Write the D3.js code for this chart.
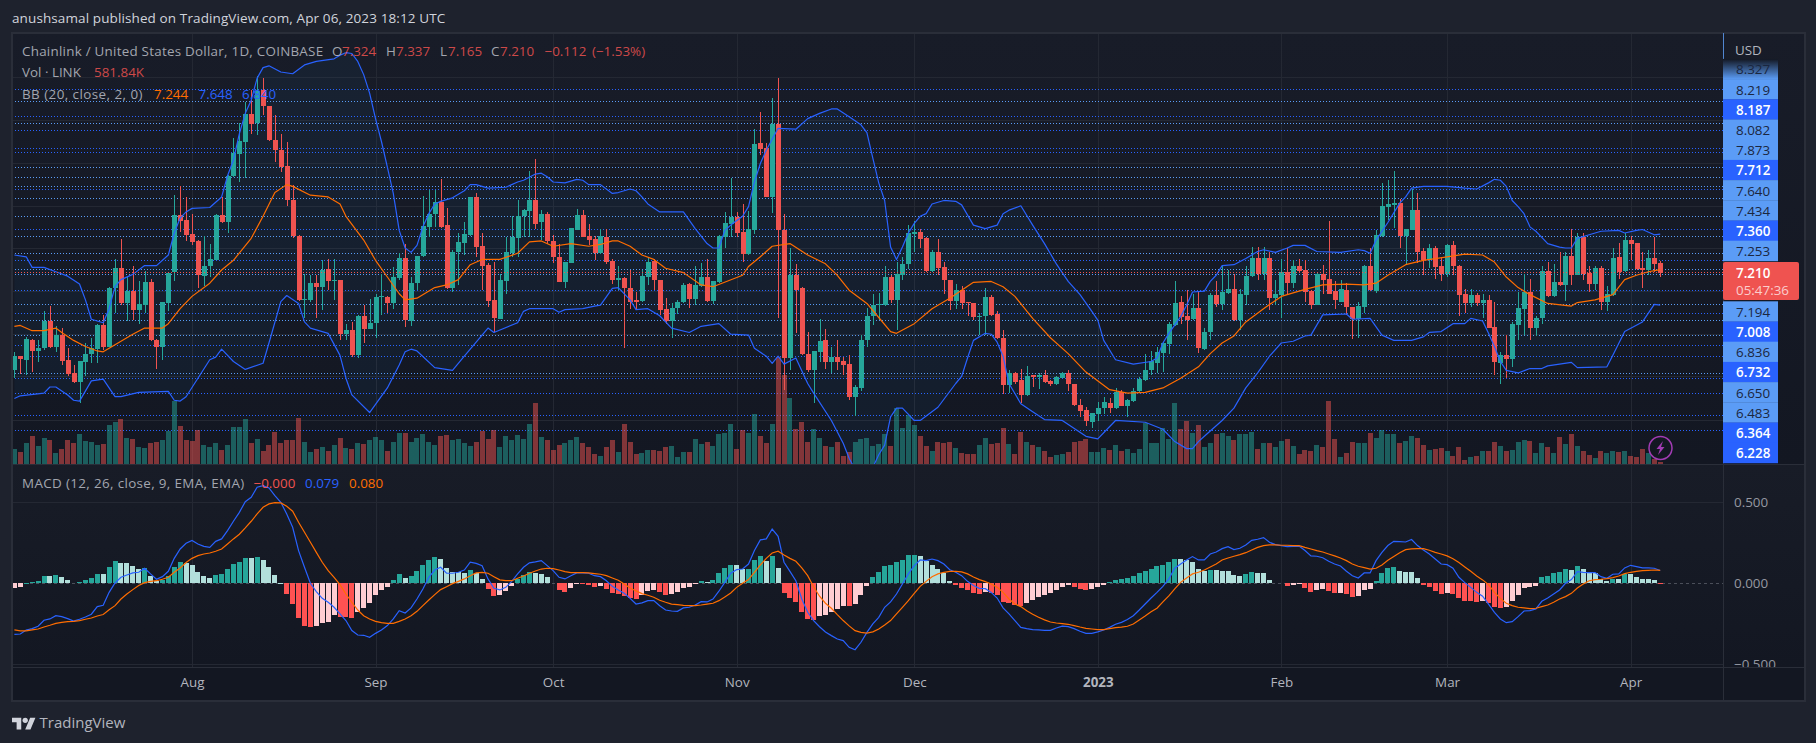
<!DOCTYPE html>
<html><head><meta charset="utf-8">
<script src="https://cdn.jsdelivr.net/npm/d3@7/dist/d3.min.js"></script>
<style>html,body{margin:0;padding:0;background:#1e222d;overflow:hidden}svg{display:block}text{font-family:"Open Sans",Roboto,sans-serif}</style>
</head><body><svg id="c" width="1816" height="743"></svg>
<script>
const opens=[6.10,6.26,6.22,6.45,6.32,6.35,6.66,6.36,6.50,6.22,
6.07,5.97,6.19,6.29,6.34,6.61,6.36,7.03,7.26,6.87,
7.00,6.78,6.84,7.10,6.45,6.37,6.87,7.22,7.86,7.81,
7.65,7.57,7.17,7.28,7.35,7.86,7.78,8.31,8.56,8.70,
9.01,8.91,9.28,9.10,8.72,8.60,8.42,8.04,7.63,6.90,
6.90,7.09,7.05,7.25,7.12,7.13,6.51,6.56,6.27,6.72,
6.57,6.64,6.94,6.93,6.87,7.15,7.38,6.66,7.09,7.40,
7.73,7.88,8.01,7.75,7.03,7.44,7.55,7.64,8.07,7.51,
7.30,6.90,6.68,7.12,7.43,7.60,7.85,7.91,8.04,7.78,
7.88,7.57,7.39,7.10,7.32,7.70,7.86,7.63,7.59,7.43,
7.62,7.34,7.13,7.15,7.03,6.90,6.89,7.16,7.34,7.13,
6.80,6.66,6.81,6.88,7.08,6.91,7.06,7.16,6.89,7.10,
7.62,7.76,7.84,7.67,7.42,7.69,8.68,8.63,8.07,8.90,
7.69,6.24,7.18,7.03,6.29,6.10,6.31,6.44,6.19,6.25,
6.21,6.17,5.80,5.90,6.44,6.72,6.84,6.84,7.16,6.90,
7.18,7.31,7.65,7.67,7.60,7.23,7.44,7.27,7.13,6.89,
7.01,6.88,6.86,6.71,6.72,6.93,6.74,6.47,5.93,6.07,
5.99,5.82,6.05,6.02,6.05,5.98,5.94,6.01,6.07,5.94,
5.71,5.65,5.51,5.60,5.67,5.73,5.67,5.85,5.69,5.75,
5.86,5.99,6.10,6.18,6.30,6.40,6.61,6.88,6.72,6.68,
6.81,6.34,6.53,6.96,6.85,6.98,7.02,6.67,6.96,7.17,
7.38,7.19,7.38,6.92,6.96,7.22,7.09,7.29,7.24,7.00,
6.84,7.19,7.14,7.00,6.88,7.01,6.82,6.68,6.82,7.28,
7.00,7.63,7.96,7.98,8.00,7.63,7.69,7.92,7.46,7.35,
7.49,7.28,7.19,7.52,7.29,6.97,6.87,6.96,6.87,6.90,
6.59,6.18,6.27,6.23,6.62,6.80,6.99,6.58,6.69,7.23,
6.94,7.10,7.07,7.40,7.18,7.62,7.21,7.08,7.26,6.88,
6.96,7.39,7.23,7.58,7.55,7.26,7.24,7.38,7.324];
const highs=[6.31,6.26,6.48,6.46,6.44,6.77,6.83,6.60,6.58,6.35,
6.16,6.21,6.41,6.47,6.63,6.73,7.05,7.37,7.59,7.16,
7.28,7.11,7.23,7.14,6.46,6.88,7.22,8.09,8.19,8.07,
7.88,7.58,7.63,7.53,7.88,8.07,8.32,8.74,8.91,9.15,
9.29,9.44,9.42,9.10,9.00,8.79,8.70,8.21,7.64,7.20,
7.18,7.18,7.35,7.36,7.36,7.13,6.63,6.65,6.73,6.84,
6.91,6.97,7.20,6.94,7.27,7.43,7.53,7.16,7.40,8.08,
8.15,8.15,8.27,7.94,7.47,7.66,7.78,8.07,8.11,7.66,
7.32,7.33,7.20,7.62,7.85,8.04,7.93,8.36,8.50,7.92,
7.90,7.64,7.54,7.33,7.72,7.93,7.92,7.76,7.63,7.71,
7.71,7.37,7.28,7.16,7.24,6.99,7.24,7.38,7.37,7.13,
6.92,6.86,6.90,7.09,7.09,7.29,7.32,7.36,7.12,7.64,
7.90,8.29,7.90,7.99,7.91,8.84,9.04,8.68,9.19,9.42,
7.88,7.49,7.31,7.05,6.54,6.32,6.68,6.57,6.37,6.44,
6.25,6.27,5.93,6.50,6.81,6.97,6.98,7.28,7.18,7.33,
7.39,7.75,7.80,7.71,7.61,7.47,7.59,7.33,7.13,7.08,
7.06,6.88,6.86,6.75,7.04,6.96,6.77,6.56,6.10,6.08,
6.11,6.15,6.05,6.07,6.10,5.99,6.03,6.08,6.10,5.94,
5.77,5.68,5.62,5.74,5.80,5.78,5.90,5.88,5.77,5.90,
6.02,6.28,6.32,6.37,6.42,6.65,7.11,6.94,7.01,6.97,
6.99,6.58,6.98,7.11,7.28,7.24,7.20,7.02,7.28,7.50,
7.50,7.50,7.44,7.13,7.37,7.49,7.35,7.36,7.35,7.01,
7.21,7.30,7.80,7.11,7.13,7.09,6.82,6.88,7.30,7.49,
7.70,8.23,8.26,8.36,8.05,7.71,8.16,8.12,7.49,7.53,
7.51,7.39,7.53,7.57,7.30,7.02,7.02,6.98,6.97,6.96,
6.88,6.31,6.50,6.65,6.99,7.20,7.14,6.72,7.28,7.33,
7.31,7.45,7.45,7.71,7.66,7.66,7.28,7.29,7.28,7.06,
7.49,7.55,7.66,7.63,7.55,7.44,7.47,7.61,7.337];
const lows=[6.01,6.06,6.05,6.08,6.20,6.33,6.35,6.31,6.16,6.03,
5.96,5.73,6.03,6.18,6.18,6.33,6.36,6.75,6.84,6.66,
6.67,6.63,6.75,6.43,6.12,6.22,6.77,7.11,7.67,7.57,
7.52,7.03,7.06,7.16,7.35,7.77,7.66,8.30,8.24,8.28,
8.79,8.77,9.00,8.71,8.47,8.35,7.97,7.60,6.89,6.69,
6.88,6.70,6.78,7.01,6.90,6.44,6.44,6.25,6.24,6.41,
6.57,6.47,6.73,6.75,6.80,7.13,6.59,6.60,7.01,7.39,
7.62,7.73,7.72,7.02,6.99,7.07,7.41,7.63,7.39,7.01,
6.82,6.54,6.68,6.97,7.39,7.39,7.61,7.62,7.71,7.58,
7.54,7.32,7.10,7.03,7.32,7.69,7.61,7.52,7.35,7.42,
7.31,7.08,7.01,6.35,6.80,6.80,6.88,7.07,7.01,6.73,
6.63,6.47,6.74,6.87,6.81,6.84,7.05,6.88,6.85,7.09,
7.49,7.62,7.62,7.33,7.41,7.65,8.55,8.07,7.89,6.69,
5.88,6.10,6.52,6.27,6.08,5.73,6.20,6.11,6.07,6.10,
6.05,5.76,5.58,5.87,6.37,6.61,6.67,6.83,6.87,6.56,
7.13,7.25,7.45,7.49,7.22,7.22,7.18,6.97,6.78,6.80,
6.80,6.72,6.67,6.50,6.50,6.72,6.46,5.83,5.84,5.95,
5.73,5.81,5.91,5.89,5.96,5.92,5.93,6.01,5.87,5.70,
5.57,5.47,5.45,5.52,5.60,5.61,5.66,5.69,5.57,5.74,
5.84,5.98,6.05,6.07,6.08,6.29,6.60,6.63,6.44,6.67,
6.30,6.33,6.44,6.82,6.79,6.97,6.66,6.56,6.84,7.16,
7.13,7.13,6.78,6.84,6.69,6.97,7.03,7.22,6.88,6.80,
6.84,6.97,6.97,6.80,6.88,6.73,6.46,6.47,6.75,7.00,
6.98,7.62,7.81,7.72,7.49,7.30,7.69,7.32,7.18,7.26,
7.14,7.11,7.16,7.18,6.72,6.75,6.82,6.83,6.69,6.58,
6.05,5.95,6.01,6.14,6.44,6.50,6.44,6.49,6.63,6.93,
6.93,7.06,6.89,7.07,7.18,7.13,6.99,7.01,6.78,6.77,
6.95,7.14,7.22,7.35,7.24,7.04,7.18,7.22,7.165];
const closes=[6.26,6.23,6.46,6.32,6.35,6.66,6.36,6.50,6.21,6.06,
5.97,6.21,6.29,6.35,6.61,6.36,7.04,7.26,6.86,7.00,
6.78,6.85,7.10,6.44,6.37,6.88,7.21,7.86,7.80,7.64,
7.56,7.18,7.28,7.36,7.86,7.78,8.31,8.57,8.71,9.01,
8.90,9.27,9.10,8.72,8.60,8.41,8.03,7.63,6.90,6.91,
7.09,7.05,7.24,7.12,7.13,6.51,6.56,6.27,6.72,6.57,
6.64,6.93,6.94,6.87,7.16,7.38,6.67,7.09,7.40,7.74,
7.88,8.01,7.73,7.03,7.45,7.56,7.65,8.07,7.50,7.29,
6.89,6.69,7.13,7.44,7.62,7.85,7.92,8.04,7.76,7.88,
7.57,7.39,7.10,7.33,7.72,7.86,7.62,7.58,7.43,7.63,
7.33,7.13,7.15,7.03,6.88,6.88,7.17,7.33,7.13,6.78,
6.66,6.81,6.88,7.07,6.91,7.07,7.16,6.89,7.11,7.63,
7.77,7.84,7.66,7.42,7.71,8.67,8.61,8.07,8.90,7.69,
6.24,7.18,7.01,6.28,6.10,6.32,6.43,6.20,6.25,6.20,
6.16,5.80,5.91,6.44,6.72,6.84,6.85,7.16,6.90,7.19,
7.31,7.66,7.67,7.59,7.23,7.44,7.26,7.13,6.89,7.01,
6.87,6.86,6.71,6.72,6.93,6.73,6.47,5.93,6.07,5.97,
5.82,6.04,6.02,6.05,5.97,5.94,6.02,6.07,5.94,5.71,
5.64,5.52,5.61,5.67,5.74,5.67,5.85,5.69,5.76,5.86,
6.00,6.10,6.21,6.31,6.41,6.63,6.87,6.71,6.67,6.81,
6.35,6.54,6.96,6.85,6.99,7.02,6.67,6.97,7.17,7.38,
7.19,7.38,6.92,6.97,7.22,7.09,7.29,7.23,6.99,6.84,
7.19,7.13,6.97,6.90,7.02,6.82,6.68,6.83,7.29,7.01,
7.64,7.97,7.99,8.00,7.63,7.71,7.92,7.45,7.35,7.49,
7.27,7.19,7.52,7.28,6.96,6.87,6.96,6.87,6.90,6.58,
6.19,6.27,6.23,6.63,6.81,6.99,6.58,6.69,7.23,6.94,
7.10,7.07,7.40,7.18,7.62,7.19,7.08,7.26,6.88,6.97,
7.38,7.22,7.58,7.54,7.25,7.24,7.38,7.31,7.21];
// relative volume (no axis on the chart)
const volumes=[44,36,62,84,54,78,72,34,46,72,62,90,70,66,57,60,116,125,134,78,
74,50,47,62,66,72,100,190,114,72,68,102,56,52,62,42,56,110,110,134,
62,76,38,57,96,64,72,72,138,66,36,44,52,38,57,78,48,46,62,60,
72,80,72,40,66,92,92,66,78,90,66,57,85,88,72,76,64,54,66,99,
76,102,52,84,72,88,76,120,184,80,72,42,57,64,72,80,64,52,30,24,
52,72,37,120,66,30,34,42,42,38,50,54,20,36,36,76,60,66,54,90,
94,120,46,102,92,150,84,62,120,322,268,197,104,126,66,104,77,54,50,66,
24,37,67,74,78,54,60,90,54,167,108,147,117,84,54,38,66,64,66,48,
34,30,30,56,77,60,62,107,60,30,96,66,57,50,39,22,27,30,36,66,
69,74,37,36,48,42,56,38,45,34,44,124,62,62,107,74,182,104,129,92,
117,52,62,90,92,84,72,90,90,96,45,63,62,50,68,74,53,30,42,38,
57,50,189,75,20,32,66,62,64,94,77,102,89,89,64,68,84,77,57,42,
45,47,40,24,50,12,20,24,39,39,65,54,40,42,65,72,68,34,62,51,
32,81,59,90,53,40,27,18,38,34,38,35,38,24,20,45,32,14,7];
const bbUpper=[[0,7.41],[2,7.39],[3,7.27],[5,7.27],[7,7.22],[9,7.17],[11,7.08],[12,6.90],[13,6.68],[15,6.64],[16,6.80],[17,7.05],[18,7.13],[20,7.19],[22,7.29],[24,7.29],[26,7.41],[27,7.66],[28,7.83],[29,7.90],[30,7.94],[33,7.95],[35,8.07],[36,8.31],[37,8.49],[38,8.79],[39,9.02],[40,9.17],[41,9.42],[42,9.54],[43,9.56],[45,9.49],[47,9.47],[49,9.57],[51,9.61],[54,9.64],[55,9.68],[56,9.71],[57,9.70],[58,9.61],[59,9.46],[60,9.25],[61,8.96],[62,8.70],[63,8.41],[64,8.11],[65,7.69],[66,7.49],[67,7.44],[68,7.52],[69,7.73],[70,7.88],[71,7.99],[72,8.02],[74,8.06],[76,8.14],[77,8.21],[78,8.21],[80,8.17],[83,8.18],[85,8.24],[86,8.26],[88,8.33],[89,8.34],[90,8.30],[91,8.24],[93,8.23],[95,8.27],[96,8.26],[97,8.21],[99,8.21],[101,8.11],[102,8.12],[104,8.16],[105,8.14],[106,8.07],[107,7.99],[109,7.90],[113,7.90],[115,7.71],[117,7.54],[118,7.49],[119,7.49],[120,7.69],[121,7.75],[123,7.85],[124,7.96],[125,8.24],[126,8.45],[127,8.60],[129,8.85],[132,8.84],[134,8.96],[136,9.02],[138,9.07],[139,9.07],[141,8.98],[143,8.89],[144,8.80],[145,8.51],[146,8.23],[147,8.03],[148,7.50],[149,7.36],[150,7.50],[151,7.66],[152,7.77],[153,7.85],[154,7.88],[155,7.99],[157,8.03],[159,8.02],[160,7.98],[162,7.75],[164,7.71],[166,7.75],[167,7.88],[168,7.92],[170,7.97],[172,7.75],[174,7.54],[176,7.31],[178,7.11],[180,6.96],[182,6.77],[183,6.67],[184,6.44],[186,6.22],[189,6.17],[192,6.20],[193,6.24],[194,6.41],[195,6.52],[197,6.71],[198,6.84],[199,6.99],[201,7.00],[202,7.11],[203,7.18],[204,7.29],[206,7.30],[208,7.37],[209,7.41],[210,7.45],[211,7.47],[213,7.44],[215,7.49],[216,7.52],[218,7.52],[220,7.45],[224,7.44],[227,7.47],[228,7.46],[229,7.43],[230,7.58],[232,7.78],[234,8.00],[235,8.07],[236,8.17],[238,8.19],[242,8.19],[245,8.17],[247,8.16],[249,8.23],[250,8.27],[251,8.26],[252,8.19],[253,8.03],[254,7.96],[255,7.88],[256,7.73],[257,7.68],[258,7.61],[259,7.54],[261,7.50],[262,7.49],[263,7.49],[264,7.60],[266,7.64],[268,7.68],[271,7.69],[272,7.66],[274,7.69],[275,7.70],[277,7.64],[278,7.648]];
const bbBasis=[[0,6.60],[1,6.61],[3,6.55],[5,6.55],[7,6.58],[8,6.53],[10,6.44],[12,6.37],[14,6.32],[15,6.31],[17,6.39],[20,6.51],[22,6.58],[25,6.58],[26,6.63],[28,6.80],[30,6.94],[33,7.09],[35,7.24],[37,7.35],[40,7.60],[42,7.85],[44,8.12],[46,8.21],[47,8.19],[50,8.09],[53,8.07],[55,7.99],[56,7.85],[59,7.58],[61,7.35],[63,7.16],[65,6.97],[66,6.90],[68,6.92],[71,7.04],[73,7.07],[75,7.13],[77,7.30],[79,7.36],[82,7.36],[85,7.43],[87,7.56],[89,7.57],[91,7.51],[94,7.54],[97,7.51],[99,7.53],[101,7.57],[102,7.57],[104,7.51],[106,7.41],[108,7.36],[110,7.26],[113,7.21],[116,7.07],[118,7.05],[123,7.18],[124,7.28],[126,7.39],[128,7.51],[131,7.54],[134,7.41],[137,7.31],[139,7.18],[141,7.01],[144,6.86],[146,6.70],[148,6.54],[149,6.52],[152,6.63],[155,6.80],[158,6.92],[160,7.01],[162,7.10],[165,7.11],[167,7.05],[169,6.94],[172,6.69],[175,6.47],[178,6.29],[181,6.08],[185,5.88],[188,5.84],[191,5.85],[194,5.90],[197,6.01],[200,6.14],[202,6.29],[204,6.41],[206,6.49],[208,6.65],[211,6.80],[214,6.94],[218,7.02],[221,7.07],[225,7.08],[228,7.07],[230,7.09],[232,7.18],[235,7.30],[238,7.35],[242,7.39],[245,7.42],[248,7.41],[250,7.33],[252,7.16],[254,7.04],[256,6.96],[259,6.86],[263,6.83],[264,6.87],[267,6.90],[270,6.96],[272,7.13],[274,7.18],[276,7.22],[278,7.244]];
const bbLower=[[0,5.78],[1,5.81],[5,5.84],[6,5.91],[7,5.91],[9,5.82],[10,5.76],[11,5.75],[13,5.98],[15,6.00],[17,5.80],[18,5.80],[21,5.85],[26,5.86],[27,5.76],[28,5.75],[29,5.80],[31,6.01],[33,6.22],[34,6.25],[35,6.34],[37,6.20],[39,6.11],[42,6.18],[43,6.41],[45,6.88],[46,6.95],[48,6.86],[49,6.65],[50,6.58],[53,6.52],[55,6.27],[56,6.01],[57,5.82],[60,5.62],[63,5.90],[65,6.16],[66,6.31],[67,6.34],[68,6.32],[71,6.13],[74,6.10],[76,6.26],[78,6.42],[80,6.58],[81,6.53],[85,6.64],[86,6.77],[87,6.80],[91,6.80],[92,6.76],[93,6.79],[96,6.80],[98,6.83],[99,6.84],[101,7.03],[102,7.04],[104,6.90],[105,6.79],[107,6.80],[109,6.72],[111,6.58],[114,6.53],[116,6.60],[119,6.63],[121,6.51],[124,6.50],[125,6.35],[127,6.26],[128,6.18],[129,6.26],[130,6.17],[132,6.24],[134,5.95],[135,5.84],[138,5.53],[140,5.27],[141,5.10],[143,4.85],[144,4.85],[146,5.14],[147,5.25],[148,5.57],[149,5.67],[150,5.67],[152,5.53],[153,5.53],[156,5.68],[159,5.95],[160,6.03],[161,6.24],[162,6.44],[164,6.52],[165,6.51],[166,6.42],[167,6.26],[168,5.95],[170,5.72],[172,5.63],[174,5.54],[177,5.53],[181,5.35],[183,5.32],[186,5.53],[191,5.51],[194,5.43],[196,5.29],[198,5.21],[199,5.21],[200,5.29],[201,5.35],[204,5.53],[206,5.67],[208,5.90],[210,6.07],[212,6.26],[214,6.41],[216,6.43],[218,6.49],[219,6.50],[221,6.73],[225,6.74],[226,6.68],[229,6.69],[231,6.50],[233,6.44],[236,6.44],[238,6.48],[239,6.53],[241,6.54],[243,6.63],[245,6.63],[246,6.69],[248,6.66],[249,6.52],[250,6.37],[251,6.20],[252,6.10],[254,6.07],[256,6.12],[258,6.12],[259,6.15],[263,6.19],[264,6.13],[269,6.14],[270,6.27],[272,6.54],[275,6.65],[277,6.85],[278,6.84]];
// MACD values in thousandths
const macdLine=[-315,-313,-288,-280,-265,-228,-220,-200,-206,-218,-233,-222,-208,-191,-144,-136,-56,2,37,51,
64,68,93,58,25,41,74,154,212,247,265,243,228,222,259,274,325,383,438,504,
531,593,603,589,541,500,428,346,202,99,0,-51,-93,-117,-148,-189,-230,-292,-319,-321,
-333,-309,-288,-261,-220,-169,-183,-152,-97,-35,37,82,99,62,62,68,82,130,123,109,
27,-31,-41,-25,12,58,99,126,132,140,109,78,37,27,47,64,64,62,47,41,
16,-19,-41,-62,-93,-128,-121,-107,-107,-138,-165,-171,-173,-152,-148,-134,-113,-115,-97,-49,
6,62,84,88,119,202,268,274,335,290,130,74,16,-97,-179,-230,-268,-300,-323,-344,
-354,-395,-410,-364,-303,-251,-210,-148,-115,-66,-4,58,109,144,140,150,140,119,84,68,
47,12,-14,-31,-33,-56,-91,-152,-189,-230,-272,-280,-286,-288,-290,-290,-276,-265,-268,-280,
-296,-309,-309,-300,-288,-272,-253,-241,-224,-200,-165,-128,-91,-56,-19,27,93,119,144,165,
144,144,181,193,214,226,208,216,237,265,272,282,253,239,233,226,228,230,202,169,
167,158,136,119,107,74,47,33,64,64,140,191,233,259,257,255,270,233,206,181,
150,119,115,93,37,4,-25,-56,-80,-128,-179,-220,-243,-237,-206,-171,-169,-158,-111,-91,
-66,-41,0,23,72,68,66,66,41,31,56,58,95,111,103,95,95,93,79];
const signalLine=[-288,-294,-294,-288,-282,-270,-259,-247,-241,-237,-235,-230,-222,-214,-202,-193,-163,-138,-97,-66,
-39,-14,4,12,16,25,37,68,95,128,154,171,181,187,198,212,243,274,303,342,
383,428,469,490,498,496,475,445,377,315,253,191,130,78,37,-8,-66,-117,-165,-200,
-220,-235,-243,-247,-247,-235,-220,-200,-173,-138,-103,-70,-39,-21,-2,12,27,47,64,68,
62,41,21,16,16,31,45,62,76,88,93,91,82,72,66,66,66,64,60,56,
47,33,19,-4,-29,-47,-64,-74,-86,-105,-117,-128,-132,-136,-138,-138,-134,-128,-123,-107,
-84,-60,-25,0,23,68,113,154,187,198,175,154,136,95,47,-21,-80,-123,-154,-193,
-230,-263,-292,-303,-307,-300,-282,-257,-230,-189,-148,-107,-62,-19,12,41,58,68,74,74,
70,58,39,23,10,-4,-25,-56,-97,-128,-144,-169,-191,-210,-226,-239,-245,-249,-253,-261,
-270,-278,-282,-286,-286,-280,-274,-270,-265,-251,-226,-202,-175,-154,-115,-78,-35,6,33,58,
68,82,101,119,144,156,167,177,189,206,222,233,237,237,235,235,233,233,222,212,
202,193,181,169,156,140,119,105,97,88,93,113,142,165,189,208,212,214,214,204,
191,181,169,152,128,101,74,45,21,-8,-56,-93,-123,-138,-148,-152,-156,-154,-144,-134,
-117,-97,-82,-62,-29,-4,16,23,25,29,35,45,60,68,74,78,80,82,80];
const macdHist=[-27,-21,2,8,16,47,47,52,41,23,4,6,21,35,58,57,101,138,126,125,
107,91,97,45,16,21,45,103,132,128,113,72,47,35,52,58,89,119,134,155,
154,163,144,103,52,2,-66,-128,-216,-262,-268,-266,-247,-237,-196,-206,-210,-214,-175,-150,
-119,-72,-41,-25,23,58,33,47,76,115,144,161,148,93,68,67,66,82,62,29,
-35,-78,-72,-45,-16,25,52,72,66,60,37,4,-41,-56,-29,-4,-5,-10,-21,-14,
-35,-62,-64,-78,-91,-97,-72,-49,-41,-56,-72,-66,-54,-29,-23,-4,14,8,23,66,
95,115,113,89,91,144,171,140,171,97,-62,-93,-117,-179,-222,-226,-202,-198,-175,-161,
-140,-142,-128,-72,-16,41,72,109,113,134,146,173,177,171,136,115,91,62,16,-10,
-29,-43,-60,-66,-54,-60,-72,-115,-124,-134,-140,-124,-103,-87,-72,-58,-39,-23,-12,-21,
-33,-41,-33,-21,-10,6,23,29,35,47,66,78,91,107,115,134,150,149,144,134,
91,74,82,80,79,78,49,43,56,68,62,61,23,4,3,-16,-8,-7,-29,-54,
-39,-38,-49,-62,-58,-66,-84,-78,-41,-35,16,66,93,103,78,68,67,31,-8,-23,
-47,-66,-58,-66,-93,-111,-112,-113,-111,-119,-148,-152,-148,-111,-74,-31,-23,-19,37,47,
62,68,91,84,109,91,68,62,25,12,29,25,56,55,37,25,24,19,-2];
const gridPrices=[9.43,8.95,8.46,7.97,7.49,7.00,6.51,6.03,5.54];
const strongLevels=[9.29,8.985,8.82,8.62,8.57,8.16,7.70,7.35,7.01,6.75,6.38,6.26,6.01,5.84,5.59,5.42];
const lightLevels=[9.16,8.91,8.41,8.29,8.19,8.05,7.85,7.62,7.43,7.25,7.19,6.85,6.67,6.50,6.06];
const lastPrice=7.21;
const priceLabelsTop=["8.327","8.219","8.187","8.082","7.873","7.712","7.640","7.434","7.360","7.253"];
const priceLabelsBottom=["7.194","7.008","6.836","6.732","6.650","6.483","6.364","6.228"];
const strongLabels=["8.187","7.712","7.360","7.008","6.732","6.364","6.228"];
const monthTicks=[["2022-08-01","Aug"],["2022-09-01","Sep"],["2022-10-01","Oct"],["2022-11-01","Nov"],["2022-12-01","Dec"],["2023-01-01","2023"],["2023-02-01","Feb"],["2023-03-01","Mar"],["2023-04-01","Apr"]];
const macdTicks=[0.5,0,-0.5];

const L=12,R=1723,RR=1804,T=33,P=464,M=667,B=700;
const svg=d3.select("#c");
const defs=svg.append("defs");
function grad(id,stops,x2=0,y2=1){const g=defs.append("linearGradient").attr("id",id).attr("x1",0).attr("y1",0).attr("x2",x2).attr("y2",y2);stops.forEach(s=>g.append("stop").attr("offset",s[0]).attr("stop-color",s[1]));}
grad("bgP",[[0,"#181c28"],[1,"#131722"]]);
grad("bgM",[[0,"#181c27"],[1,"#131722"]]);
grad("fade",[[0,"#131722"],[1,"#5b9cf6"]]);
defs.append("clipPath").attr("id","cp").append("rect").attr("x",L).attr("y",T).attr("width",R-L).attr("height",P-T);
defs.append("clipPath").attr("id","cm").append("rect").attr("x",L).attr("y",P).attr("width",R-L).attr("height",M-P);
defs.append("clipPath").attr("id","ca").append("rect").attr("x",R).attr("y",P).attr("width",RR-R).attr("height",M-P);

svg.append("rect").attr("width",1816).attr("height",743).attr("fill","#1e222d");
svg.append("rect").attr("x",L).attr("y",T).attr("width",RR-L).attr("height",P-T).attr("fill","url(#bgP)");
svg.append("rect").attr("x",L).attr("y",P).attr("width",RR-L).attr("height",M-P).attr("fill","url(#bgM)");
svg.append("rect").attr("x",L).attr("y",M).attr("width",RR-L).attr("height",B-M).attr("fill","#131722");

const parse=d3.utcParse("%Y-%m-%d");
const d0=parse("2022-07-02"),dN=parse("2023-04-06");
const x=d3.scaleUtc().domain([d0,dN]).range([14.4,1660.2]);
const dayX=i=>x(d3.utcDay.offset(d0,i));
const y=d3.scaleLinear().domain([10.308,4.308]).range([0,528]);
const volY=d3.scaleLinear().domain([0,d3.max(volumes)]).range([P,P-107.3]);
const macdY=d3.scaleLinear().domain([0.5,-0.5]).range([502.3,664.3]);
const snap=v=>Math.round(v)+.5;
const flo=v=>Math.floor(v)+.5;

// grid
const g=svg.append("g").attr("stroke","#242833").attr("stroke-width",1).attr("shape-rendering","crispEdges");
monthTicks.forEach(t=>{const X=snap(x(parse(t[0])));g.append("line").attr("x1",X).attr("x2",X).attr("y1",T).attr("y2",B-33);});
const gp=svg.append("g").attr("clip-path","url(#cp)").attr("stroke","#242833").attr("shape-rendering","crispEdges");
gridPrices.forEach(p=>gp.append("line").attr("x1",L).attr("x2",R).attr("y1",snap(y(p))).attr("y2",snap(y(p))));
const gm=svg.append("g").attr("stroke","#242833").attr("shape-rendering","crispEdges");
[0.5,-0.5].forEach(v=>gm.append("line").attr("x1",L).attr("x2",R).attr("y1",snap(macdY(v))).attr("y2",snap(macdY(v))));

// levels
const lv=svg.append("g").attr("shape-rendering","crispEdges").attr("stroke-dasharray","1,2");
strongLevels.forEach(p=>lv.append("line").attr("x1",L).attr("x2",R).attr("y1",flo(y(p))).attr("y2",flo(y(p))).attr("stroke","#2962ff"));
lightLevels.forEach(p=>lv.append("line").attr("x1",L).attr("x2",R).attr("y1",flo(y(p))).attr("y2",flo(y(p))).attr("stroke","#5b9cf6"));

const pane=svg.append("g").attr("clip-path","url(#cp)");
// band fill
const lineP=d3.line().x(d=>dayX(d[0])).y(d=>y(d[1]));
pane.append("path").attr("d",lineP(bbUpper.concat(bbLower.slice().reverse()))+"Z").attr("fill","rgba(33,150,243,0.05)");
// volume
pane.append("g").attr("shape-rendering","crispEdges").selectAll("rect").data(volumes).join("rect")
 .attr("x",(d,i)=>Math.round(dayX(i)-2.5)).attr("width",5)
 .attr("y",d=>volY(d)).attr("height",d=>P-volY(d))
 .attr("fill",(d,i)=>closes[i]>=opens[i]?"rgba(38,166,154,0.5)":"rgba(239,83,80,0.5)");
// candles
const up="#26a69a",dn="#ef5350";
const cg=pane.append("g").attr("shape-rendering","crispEdges");
closes.forEach((c,i)=>{
 const col=c>=opens[i]?up:dn,X=Math.round(dayX(i));
 cg.append("line").attr("x1",X+.5).attr("x2",X+.5).attr("y1",y(highs[i])).attr("y2",y(lows[i])).attr("stroke",col);
 const t=y(Math.max(c,opens[i])),b=y(Math.min(c,opens[i]));
 cg.append("rect").attr("x",X-2).attr("width",5).attr("y",t).attr("height",Math.max(1,b-t)).attr("fill",col);
});
// bb lines
const bbG=pane.append("g").attr("fill","none").attr("stroke-width",1.2).attr("stroke-linejoin","round");
bbG.append("path").attr("d",lineP(bbUpper)).attr("stroke","#2962ff");
bbG.append("path").attr("d",lineP(bbLower)).attr("stroke","#2962ff");
bbG.append("path").attr("d",lineP(bbBasis)).attr("stroke","#ff6d00");
// last price line
svg.append("line").attr("x1",L).attr("x2",R).attr("y1",flo(y(lastPrice))).attr("y2",flo(y(lastPrice))).attr("stroke","#ef5350").attr("stroke-dasharray","1,2").attr("shape-rendering","crispEdges");

// macd
const mp=svg.append("g").attr("clip-path","url(#cm)");
mp.append("line").attr("x1",L).attr("x2",R).attr("y1",snap(macdY(0))).attr("y2",snap(macdY(0))).attr("stroke","#787b86").attr("stroke-dasharray","3,3").attr("stroke-opacity",.55).attr("shape-rendering","crispEdges");
mp.append("g").attr("shape-rendering","crispEdges").selectAll("rect").data(macdHist).join("rect")
 .attr("x",(d,i)=>Math.round(dayX(i)-2.5)).attr("width",5)
 .attr("y",d=>macdY(Math.max(d,0)/1000)).attr("height",d=>Math.max(.6,Math.abs(macdY(d/1000)-macdY(0))))
 .attr("fill",(d,i)=>{const pr=i?macdHist[i-1]:d;return d>=0?(d>pr?"#26a69a":"#b2dfdb"):(d<pr?"#ff5252":"#ffcdd2");});
const lineM=d3.line().x((d,i)=>dayX(i)).y(d=>macdY(d/1000));
mp.append("path").attr("d",lineM(macdLine)).attr("fill","none").attr("stroke","#2962ff").attr("stroke-width",1.2);
mp.append("path").attr("d",lineM(signalLine)).attr("fill","none").attr("stroke","#ff6d00").attr("stroke-width",1.2);

// frame
const fr=svg.append("g").attr("stroke","#2a2e39").attr("shape-rendering","crispEdges").attr("fill","none");
fr.append("rect").attr("x",L-1+.5).attr("y",T-1+.5).attr("width",RR-L+1).attr("height",B-T+1).attr("stroke-width",2);
[[L,RR,P],[L,RR,M]].forEach(a=>fr.append("line").attr("x1",a[0]).attr("x2",a[1]).attr("y1",a[2]+.5).attr("y2",a[2]+.5));
fr.append("line").attr("x1",R+.5).attr("x2",R+.5).attr("y1",T).attr("y2",B);
svg.append("line").attr("x1",R+.5).attr("x2",R+.5).attr("y1",T).attr("y2",62).attr("stroke","#5b9cf6").attr("stroke-opacity",.8).attr("shape-rendering","crispEdges");

// price labels
const fs=13.4;
const k0=69,kStep=20.2,lab=svg.append("g").attr("font-size",fs);
function priceLabel(txt,k){
 const cy=k0+k*kStep,s=strongLabels.includes(txt);
 lab.append("rect").attr("x",R).attr("y",cy-kStep/2).attr("width",55).attr("height",kStep+.3)
  .attr("fill",k===0?"url(#fade)":(s?"#2962ff":"#5b9cf6"));
 lab.append("text").attr("x",1736).attr("y",cy+.5).attr("dy",".36em").attr("fill",s?"#fff":"#1b2740").attr("font-weight",s?600:400).text(txt);
}
priceLabelsTop.forEach((t,i)=>priceLabel(t,i));
priceLabelsBottom.forEach((t,i)=>priceLabel(t,i+12));
lab.append("rect").attr("x",R).attr("y",262).attr("width",76).attr("height",38).attr("rx",2).attr("fill","#ef5350");
lab.append("text").attr("x",1736).attr("y",273).attr("dy",".36em").attr("fill","#fff").attr("font-weight",600).text(d3.format(".3f")(lastPrice));
lab.append("text").attr("x",1736).attr("y",290).attr("dy",".36em").attr("fill","rgba(255,255,255,.72)").text("05:47:36");
svg.append("text").attr("x",1735).attr("y",50).attr("dy",".36em").attr("font-size",fs).attr("fill","#b2b5be").text("USD");

// macd axis
const am=svg.append("g").attr("clip-path","url(#ca)").append("g").attr("transform",`translate(${R},0)`)
 .call(d3.axisRight(macdY).tickValues(macdTicks).tickSize(0).tickPadding(11).tickFormat(d3.format(".3f")));
am.select(".domain").remove();
am.selectAll("text").attr("font-size",fs).attr("fill","#9598a1").attr("font-family","Open Sans");

// time axis
const labels=new Map(monthTicks.map(t=>[+parse(t[0]),t[1]]));
const at=svg.append("g").attr("transform",`translate(0,${M})`)
 .call(d3.axisBottom(x).tickValues(monthTicks.map(t=>parse(t[0]))).tickSize(0).tickPadding(10).tickFormat(d=>labels.get(+d)));
at.select(".domain").remove();
at.selectAll("text").attr("font-size",fs).attr("fill","#b2b5be").attr("font-family","Open Sans")
 .attr("font-weight",d=>labels.get(+d)==="2023"?700:400);

// texts
function T_(x,y,s,fill,size=13.4,op=1,w=400,ls=0){return svg.append("text").attr("x",x).attr("y",y).attr("dy",".36em").attr("font-size",size).attr("fill",fill).attr("fill-opacity",op).attr("font-weight",w).attr("letter-spacing",ls).text(s);}
T_(12,18,"anushsamal published on TradingView.com, Apr 06, 2023 18:12 UTC","#d1d4dc",13.5,1,400,.11);
const grey="#a3a6af",red="#ef5350";
T_(22,51,"Chainlink / United States Dollar, 1D, COINBASE",grey,13.4,1,400,.25);
T_(332,51,"O",grey);T_(342,51,"7.324",red,13.4,.85);
T_(386,51,"H",grey);T_(396,51,"7.337",red,13.4,.85);
T_(440,51,"L",grey);T_(448,51,"7.165",red,13.4,.85);
T_(491,51,"C",grey);T_(500,51,"7.210",red,13.4,.85);
T_(544.5,51,"−0.112",red,13.4,.85);T_(592,51,"(−1.53%)",red,13.4,.85);
T_(22,72,"Vol · LINK",grey);T_(94,72,"581.84K",red,13.4,.85);
T_(22,94,"BB (20, close, 2, 0)",grey,13.4,1,400,.45);T_(154,94,"7.244","#ff6d00");T_(198.5,94,"7.648","#2962ff");T_(242,94,"6.840","#2962ff");
T_(22,483,"MACD (12, 26, close, 9, EMA, EMA)",grey,13.4,1,400,.36);T_(253.5,483,"−0.000",red);T_(305,483,"0.079","#2962ff");T_(349,483,"0.080","#ff6d00");

// logo
const lg=svg.append("g").attr("transform","translate(12,715) scale(.66)").attr("fill","#d1d4dc");
lg.append("path").attr("d","M14 22H7V11H0V4h14v18zM28 22h-8l7.5-18h8L28 22z");
lg.append("circle").attr("cx",20).attr("cy",8).attr("r",4);
T_(39.5,723,"TradingView","#b2b5be",15);

// lightning icon
const ic=svg.append("g").attr("transform","translate(1660.5,448)");
ic.append("circle").attr("r",11.5).attr("fill","none").attr("stroke","#a23cb4").attr("stroke-width",1.5);
ic.append("path").attr("d","M2.5,-7 L-4,1 L-.5,1 L-2.5,7 L4,-1 L.5,-1 Z").attr("fill","#a23cb4");
</script></body></html>
